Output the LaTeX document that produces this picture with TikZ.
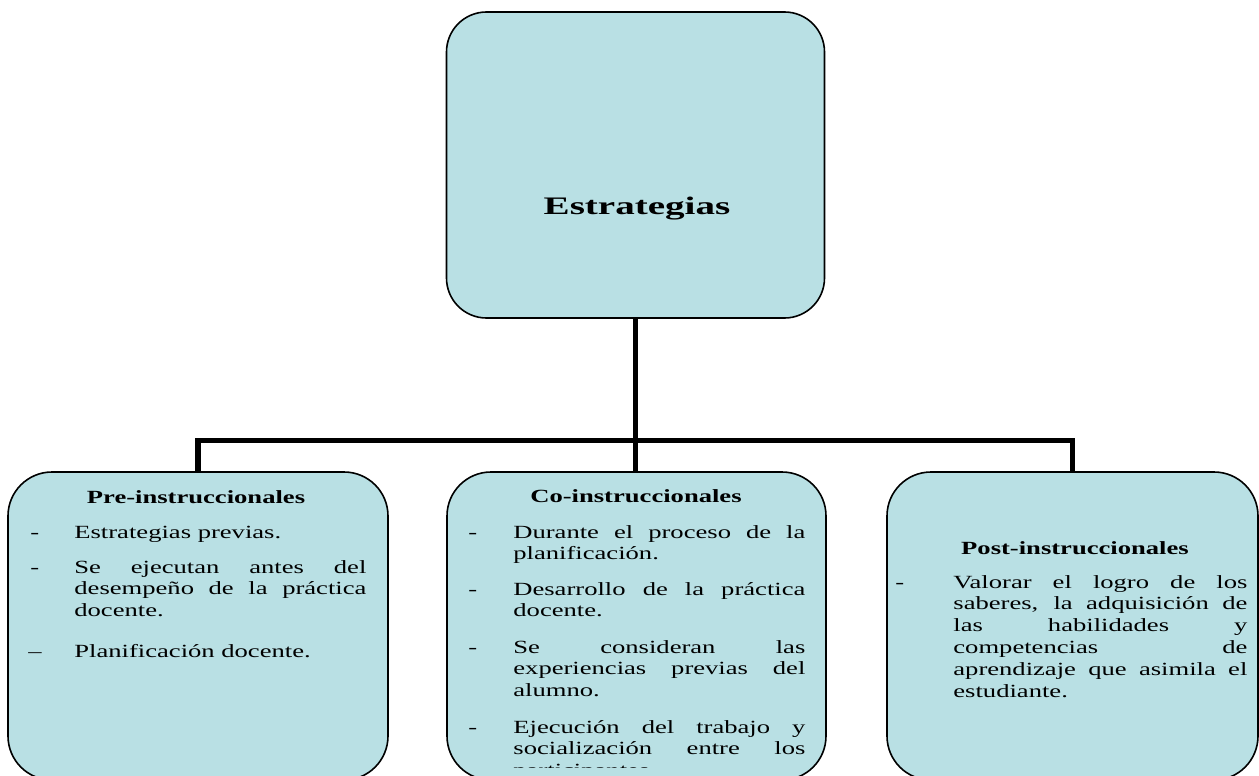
\documentclass[tikz,border=0pt]{standalone}
\usepackage{fontspec}
\setmainfont{Liberation Serif}[FakeStretch=1.43]
\newfontfamily\titlefont{Liberation Serif}[FakeStretch=1.55]
\definecolor{boxfill}{RGB}{185,224,228}
\newcommand\jline[1]{\makebox[\linewidth][s]{#1}\par}
\newcommand\myitem[4]{\makebox[#1][l]{#2}\parbox[t]{#3}{\fontsize{9.3}{10.9}\selectfont #4}}
\tikzset{
  box/.style={draw=black, line width=0.8pt, fill=boxfill, rounded corners=22pt, inner sep=0pt},
  conn/.style={draw=black, line width=2.75pt, line join=miter},
  itemtext/.style={anchor=base west, inner sep=0pt, font=\fontsize{9.3}{10.9}\selectfont},
  heading/.style={anchor=base, inner sep=0pt, font=\bfseries\fontsize{9.3}{10.9}\selectfont},
}
\begin{document}
\begin{tikzpicture}[x=0.5pt,y=-0.5pt]
\useasboundingbox (0,0) rectangle (1259,776);
% boxes
\node[box, rounded corners=20pt, minimum width=189pt, minimum height=153pt] (top) at (635.5,165) {};
\node[box, minimum width=190pt, minimum height=154pt] (pre) at (198,626) {};
\node[box, minimum width=189.5pt, minimum height=154pt] (mid) at (636.5,626) {};
\node[box, minimum width=185.5pt, minimum height=154pt] (post) at (1072.5,626) {};
% connectors
\coordinate (bar) at (0,440.5);
\draw[conn] (top.south) -- (top.south |- mid.north);
\draw[conn] (pre.north) |- (post.north |- bar) -- (post.north);
% title
\node[anchor=base, inner sep=0pt, font=\titlefont\bfseries\fontsize{12.6}{15}\selectfont] (ttl) at (637,214) {Estrategias};
% left box
\node[heading] (h1) at (196,503) {Pre-instruccionales};
\node[itemtext] (a1) at (30,538) {\myitem{22pt}{-}{146pt}{Estrategias previas.}};
\node[itemtext] (a2) at (30,573) {\myitem{22pt}{-}{146pt}{\jline{Se ejecutan antes del}\jline{desempeño de la práctica}docente.}};
\node[itemtext] (a3) at (28,657) {\myitem{23pt}{–}{146pt}{Planificación docente.}};
% middle box
\node[heading] (h2) at (636,502) {Co-instruccionales};
\node[itemtext] (b1) at (468,538) {\myitem{22.5pt}{-}{146pt}{\jline{Durante el proceso de la}planificación.}};
\node[itemtext] (b2) at (468,595) {\myitem{22.5pt}{-}{146pt}{\jline{Desarrollo de la práctica}docente.}};
\node[itemtext] (b3) at (468,653) {\myitem{22.5pt}{-}{146pt}{\jline{Se consideran las}\jline{experiencias previas del}alumno.}};
\begin{scope}
\clip (0,0) rectangle (1259,767);
\node[itemtext] (b4) at (468,733) {\myitem{22.5pt}{-}{146pt}{\jline{Ejecución del trabajo y}\jline{socialización entre los}participantes.}};
\end{scope}
% right box
\node[heading] (h3) at (1075,554) {Post-instruccionales};
\node[itemtext] (c1) at (895,588) {\myitem{29pt}{-}{147pt}{\jline{Valorar el logro de los}\jline{saberes, la adquisición de}\jline{las habilidades y}\jline{competencias de}\jline{aprendizaje que asimila el}estudiante.}};
\end{tikzpicture}
\end{document}
